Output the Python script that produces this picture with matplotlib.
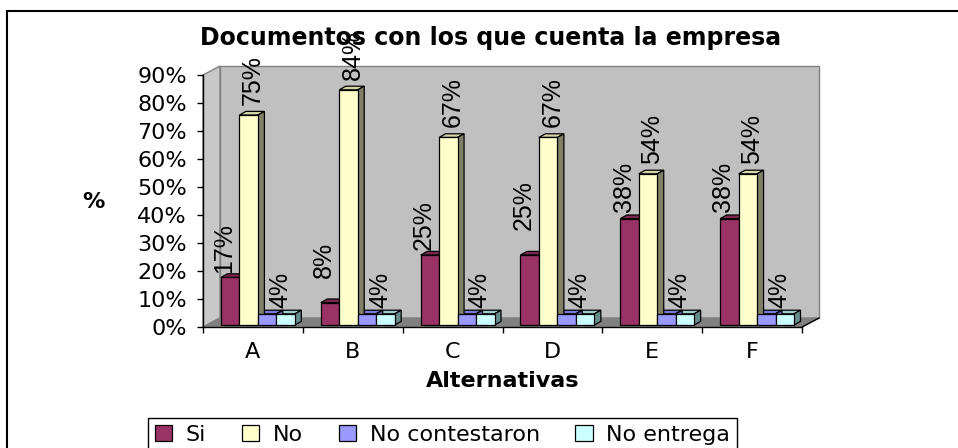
import numpy as np
import matplotlib.pyplot as plt
import matplotlib.patches as mpatches
from matplotlib.patches import Polygon, Rectangle

# data
categories = ['A', 'B', 'C', 'D', 'E', 'F']
si = [17, 8, 25, 25, 38, 38]
no = [75, 84, 67, 67, 54, 54]
no_contestaron = [4, 4, 4, 4, 4, 4]
no_entrega = [4, 4, 4, 4, 4, 4]
series_names = ['Si', 'No', 'No contestaron', 'No entrega']
y_ticks = [0, 10, 20, 30, 40, 50, 60, 70, 80, 90]

# styles
front_colors = ['#993366', '#FFFFCC', '#9999FF', '#CCFFFF']
top_colors = ['#7A2850', '#D6D6AA', '#7A7AD6', '#A3CCCC']
side_colors = ['#5E1F3F', '#808066', '#6060A8', '#668C8C']
label_dx = [-0.06, 0.045, None, -0.055]        # None: no label shown
label_gap_px = [[4, 25, 5, 25, 7, 7], [10] * 6, None, [6] * 6]

W, H = 958, 448
fig = plt.figure(figsize=(W / 100, H / 100), dpi=100)

# chart area border (cut by the image on right and bottom)
fig.patches.append(Rectangle((7 / W, -0.1), 1.2, 1 - 11 / H + 0.1, fill=False,
                             edgecolor='black', linewidth=1.5,
                             transform=fig.transFigure, figure=fig))

ax = fig.add_axes([203 / W, 1 - 327 / H, 599 / W, 252 / H])
ax.set_xlim(0, 6)
ax.set_ylim(0, 90)
ax.patch.set_visible(False)

# 3d walls
DX, DY = 0.17, 3.2
top = y_ticks[-1]
back = Polygon([(DX, DY), (6 + DX, DY), (6 + DX, top + DY), (DX, top + DY)],
               closed=True, facecolor='#C0C0C0', edgecolor='#808080', lw=1,
               clip_on=False, zorder=0.5)
side = Polygon([(0, 0), (DX, DY), (DX, top + DY), (0, top)], closed=True,
               facecolor='#C8C8C8', edgecolor='#808080', lw=1, clip_on=False, zorder=0.6)
floor = Polygon([(0, 0), (6, 0), (6 + DX, DY), (DX, DY)], closed=True,
                facecolor='#808080', edgecolor='#808080', lw=1, clip_on=False, zorder=0.7)
for p in (back, side, floor):
    ax.add_patch(p)
ax.plot([6, 6 + DX], [0, DY], color='black', lw=1, clip_on=False, zorder=1)

# bars
BW = 0.185
ddx, ddy = 0.065, 1.3
px_per_unit = 252 / 90
x = np.arange(len(categories))
series = [si, no, no_contestaron, no_entrega]
for j, vals in enumerate(series):
    bars = ax.bar(x + 0.18 + j * BW, vals, width=BW, bottom=0.7, align='edge',
                  color=front_colors[j], edgecolor='black', linewidth=0.9,
                  zorder=3, clip_on=False)
    for k, r in enumerate(bars):
        x0, b = r.get_x(), r.get_y()
        x1, t = x0 + r.get_width(), b + r.get_height()
        ax.add_patch(Polygon([(x0, t), (x0 + ddx, t + ddy), (x1 + ddx, t + ddy), (x1, t)],
                             closed=True, facecolor=top_colors[j], edgecolor='black',
                             lw=0.9, zorder=2, clip_on=False))
        ax.add_patch(Polygon([(x1, b), (x1 + ddx, b + ddy), (x1 + ddx, t + ddy), (x1, t)],
                             closed=True, facecolor=side_colors[j], edgecolor='black',
                             lw=0.9, zorder=2.1, clip_on=False))
        if label_dx[j] is not None:
            ax.text(x0 + r.get_width() / 2 + label_dx[j],
                    t + label_gap_px[j][k] / px_per_unit, f'{vals[k]}%',
                    rotation=90, ha='center', va='bottom', fontsize=18,
                    family=['Liberation Sans Narrow', 'Liberation Sans', 'DejaVu Sans'],
                    zorder=5, clip_on=False)

# axes
for s in ('top', 'right'):
    ax.spines[s].set_visible(False)
ax.spines['left'].set_linewidth(1)
ax.spines['bottom'].set_linewidth(1)
ax.spines['left'].set_zorder(4)
ax.spines['bottom'].set_zorder(4)
ax.set_yticks(y_ticks)
ax.set_yticklabels([f'{v}%' for v in y_ticks], fontsize=16)
ax.tick_params(axis='y', direction='out', length=4.5, width=1, pad=7)
ax.set_xticks(np.arange(len(categories) + 1))
ax.set_xticklabels([''] * (len(categories) + 1))
ax.set_xticks(x + 0.5, minor=True)
ax.set_xticklabels(categories, minor=True, fontsize=16)
ax.tick_params(axis='x', which='major', direction='out', length=4.5, width=1)
ax.tick_params(axis='x', which='minor', length=0, pad=11)

ax.set_xlabel('Alternativas', fontsize=16, fontweight='bold', va='center')
ax.xaxis.set_label_coords(0.5, (327 - 381) / 252)
ax.set_ylabel('%', fontsize=16, fontweight='bold', rotation=0, va='center', ha='center')
ax.yaxis.set_label_coords((93 - 203) / 599, (327 - 202) / 252)

fig.text(491 / W, 1 - 38 / H, 'Documentos con los que cuenta la empresa',
         ha='center', va='center', fontsize=17, fontweight='bold')

handles = [mpatches.Patch(facecolor=front_colors[j], edgecolor='black', linewidth=0.9,
                          label=series_names[j]) for j in range(4)]
leg = fig.legend(handles=handles, loc='upper left', bbox_to_anchor=(148 / W, 1 - 418 / H),
                 ncol=4, frameon=True, fancybox=False, edgecolor='black', framealpha=1,
                 borderaxespad=0, fontsize=16, handlelength=0.8, handleheight=0.7,
                 handletextpad=0.6, columnspacing=1.6, borderpad=0.3)
leg.get_frame().set_linewidth(1.0)

fig.savefig('out.png', dpi=100)
